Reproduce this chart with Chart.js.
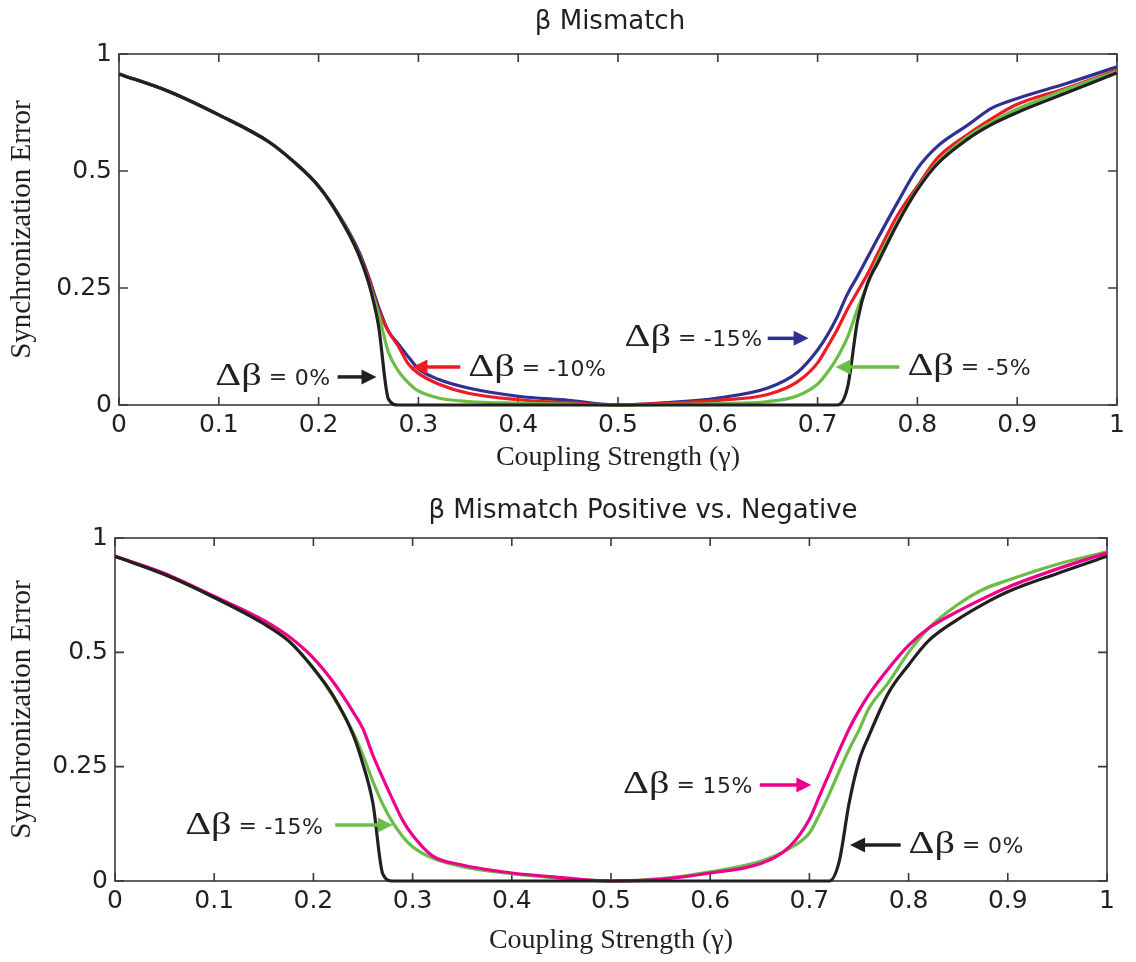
<!DOCTYPE html>
<html>
<head>
<meta charset="UTF-8">
<title>Beta mismatch</title>
<script src="https://cdn.jsdelivr.net/npm/chart.js@4.4.0/dist/chart.umd.min.js"></script>
<style>
    body { margin: 0; background: #fff; }
    .panel { position: absolute; left: 0; width: 1136px; height: 481px; }
</style>
</head>
<body>
<div class="panel" style="top:0"><canvas id="topChart" width="1136" height="481"></canvas></div>
<div class="panel" style="top:481px"><canvas id="bottomChart" width="1136" height="481"></canvas></div>

<script>
// coupling strength samples (x)
const gamma = [0, 0.05, 0.1, 0.15, 0.175, 0.2, 0.22, 0.24, 0.25, 0.26, 0.27, 0.28, 0.29, 0.3, 0.32, 0.35, 0.4, 0.45,
    0.5, 0.55, 0.6, 0.65, 0.68, 0.7, 0.71, 0.72, 0.73, 0.74, 0.75, 0.76, 0.78, 0.8, 0.82, 0.85, 0.875, 0.9, 0.95, 1.0];

// y is in axis units: the published axis puts 0, 0.25, 0.5, 1 at equal spacing
const yTickValues = [0, 1, 2, 3];
const yTickLabels = ['0', '0.25', '0.5', '1'];
const xTickValues = [0, 0.1, 0.2, 0.3, 0.4, 0.5, 0.6, 0.7, 0.8, 0.9, 1];

// top panel: beta mismatch
const topZero = [2.83, 2.68, 2.48, 2.25, 2.08, 1.87, 1.62, 1.29, 1.05, 0.68, 0.05, 0, 0, 0, 0, 0, 0, 0,
    0, 0, 0, 0, 0, 0, 0, 0, 0.15, 0.72, 1.04, 1.21, 1.55, 1.84, 2.06, 2.27, 2.40, 2.50, 2.67, 2.84];
const topMinus5 = [2.83, 2.68, 2.48, 2.25, 2.08, 1.87, 1.62, 1.29, 1.05, 0.78, 0.45, 0.29, 0.19, 0.12, 0.06, 0.03, 0.015, 0.007,
    0, 0.005, 0.012, 0.03, 0.08, 0.18, 0.28, 0.41, 0.58, 0.82, 1.03, 1.24, 1.56, 1.85, 2.07, 2.29, 2.42, 2.53, 2.70, 2.85];
const topMinus10 = [2.83, 2.68, 2.48, 2.25, 2.08, 1.87, 1.62, 1.30, 1.08, 0.81, 0.63, 0.50, 0.35, 0.27, 0.18, 0.10, 0.045, 0.02,
    0, 0.015, 0.04, 0.09, 0.20, 0.36, 0.50, 0.65, 0.82, 0.97, 1.12, 1.29, 1.62, 1.87, 2.11, 2.31, 2.45, 2.57, 2.71, 2.86];
const topMinus15 = [2.83, 2.68, 2.48, 2.25, 2.08, 1.87, 1.63, 1.32, 1.10, 0.84, 0.63, 0.52, 0.41, 0.31, 0.22, 0.145, 0.075, 0.04,
    0, 0.02, 0.06, 0.145, 0.28, 0.47, 0.60, 0.76, 0.95, 1.10, 1.26, 1.42, 1.73, 2.02, 2.21, 2.39, 2.54, 2.62, 2.75, 2.89];

// bottom panel: positive vs negative
const botZero = [2.84, 2.68, 2.48, 2.25, 2.10, 1.86, 1.62, 1.28, 1.02, 0.68, 0.06, 0, 0, 0, 0, 0, 0, 0,
    0, 0, 0, 0, 0, 0, 0, 0, 0.17, 0.68, 1.05, 1.27, 1.65, 1.89, 2.10, 2.29, 2.42, 2.53, 2.69, 2.84];
const botMinus15 = [2.84, 2.68, 2.48, 2.25, 2.10, 1.86, 1.61, 1.30, 1.10, 0.87, 0.67, 0.51, 0.39, 0.30, 0.20, 0.125, 0.065, 0.025,
    0, 0.02, 0.08, 0.17, 0.285, 0.42, 0.58, 0.76, 0.96, 1.15, 1.32, 1.51, 1.74, 2.00, 2.21, 2.42, 2.55, 2.63, 2.77, 2.88];
const botPlus15 = [2.84, 2.69, 2.49, 2.28, 2.14, 1.95, 1.74, 1.48, 1.33, 1.10, 0.90, 0.71, 0.53, 0.40, 0.22, 0.14, 0.07, 0.03,
    0, 0.015, 0.07, 0.15, 0.30, 0.54, 0.74, 0.94, 1.14, 1.33, 1.49, 1.63, 1.86, 2.06, 2.21, 2.36, 2.47, 2.57, 2.73, 2.87];

const INK = '#231f20';
const SANS = '"DejaVu Sans", sans-serif';
const SERIF = '"Liberation Serif", "Times New Roman", serif';

function series(values) {
    return gamma.map((g, i) => ({ x: g, y: values[i] }));
}

function line(label, values, color) {
    return {
        label: label,
        data: series(values),
        borderColor: color,
        borderWidth: 3.2,
        pointRadius: 0,
        cubicInterpolationMode: 'monotone',
        clip: false
    };
}

// box around the plot with inward ticks on all four sides
const framePlugin = {
    id: 'frame',
    beforeDatasetsDraw(chart) {
        const { ctx, chartArea: a, scales: { x, y } } = chart;
        ctx.save();
        ctx.strokeStyle = '#3a3a3a';
        ctx.lineWidth = 1.6;
        ctx.strokeRect(a.left, a.top, a.right - a.left, a.bottom - a.top);
        ctx.beginPath();
        xTickValues.forEach(v => {
            const px = x.getPixelForValue(v);
            ctx.moveTo(px, a.bottom); ctx.lineTo(px, a.bottom - 8);
            ctx.moveTo(px, a.top); ctx.lineTo(px, a.top + 8);
        });
        yTickValues.forEach(v => {
            const py = y.getPixelForValue(v);
            ctx.moveTo(a.left, py); ctx.lineTo(a.left + 9, py);
            ctx.moveTo(a.right, py); ctx.lineTo(a.right - 9, py);
        });
        ctx.stroke();
        ctx.restore();
    }
};

// title centred where the original sits
const panelTitle = {
    id: 'panelTitle',
    afterDraw(chart, args, opts) {
        const ctx = chart.ctx;
        ctx.save();
        ctx.fillStyle = INK;
        ctx.font = '26px ' + SANS;
        ctx.textAlign = 'center';
        ctx.textBaseline = 'middle';
        ctx.fillText(opts.text, opts.x, opts.y);
        ctx.restore();
    }
};

// "Δβ = n%" labels with arrows, placed in data units
const arrowNotes = {
    id: 'arrowNotes',
    afterDatasetsDraw(chart, args, opts) {
        const { ctx, scales: { x, y } } = chart;
        opts.items.forEach(n => {
            const ay = y.getPixelForValue(n.y);
            const x0 = x.getPixelForValue(n.from);
            const x1 = x.getPixelForValue(n.to);
            const dir = Math.sign(x1 - x0);
            ctx.save();
            ctx.strokeStyle = n.color;
            ctx.fillStyle = n.color;
            ctx.lineWidth = 3.5;
            ctx.beginPath();
            ctx.moveTo(x0, ay);
            ctx.lineTo(x1 - dir * 12, ay);
            ctx.stroke();
            ctx.beginPath();
            ctx.moveTo(x1, ay);
            ctx.lineTo(x1 - dir * 15, ay - 7.5);
            ctx.lineTo(x1 - dir * 15, ay + 7.5);
            ctx.closePath();
            ctx.fill();

            // label
            ctx.fillStyle = INK;
            ctx.textBaseline = 'alphabetic';
            ctx.textAlign = 'left';
            const stretch = 1.3;
            ctx.font = '31px ' + SERIF;
            const wDB = ctx.measureText('Δβ').width * stretch;
            ctx.font = '22px ' + SANS;
            ctx.letterSpacing = '0.5px';
            const wEq = ctx.measureText('=').width;
            const wVal = ctx.measureText(n.value).width;
            const gap = 7;
            const total = wDB + gap + wEq + gap + wVal;
            let lx = x.getPixelForValue(n.tx);
            if (n.align === 'right') lx -= total;
            const base = y.getPixelForValue(n.ty) + 8;

            ctx.save();
            ctx.letterSpacing = '0px';
            ctx.translate(lx, base);
            ctx.scale(stretch, 1);
            ctx.font = '31px ' + SERIF;
            ctx.fillText('Δβ', 0, 0);
            ctx.restore();
            ctx.font = '22px ' + SANS;
            ctx.fillText('=', lx + wDB + gap, base - 1);
            ctx.fillText(n.value, lx + wDB + gap + wEq + gap, base);
            ctx.restore();
        });
    }
};

function makeChart(id, datasets, opt) {
    return new Chart(document.getElementById(id), {
        type: 'line',
        data: { datasets: datasets },
        plugins: [framePlugin, panelTitle, arrowNotes],
        options: {
            responsive: false,
            animation: false,
            events: [],
            layout: { padding: { top: opt.padTop, right: opt.padRight, left: 0, bottom: 0 } },
            plugins: {
                legend: { display: false },
                tooltip: { enabled: false },
                panelTitle: { text: opt.title, x: opt.titleX, y: opt.titleY },
                arrowNotes: { items: opt.notes }
            },
            scales: {
                x: {
                    type: 'linear',
                    min: 0,
                    max: 1,
                    afterBuildTicks: s => { s.ticks = xTickValues.map(v => ({ value: v })); },
                    afterFit: s => { s.height = opt.xHeight; },
                    grid: { display: false, drawTicks: false },
                    border: { display: false },
                    ticks: {
                        padding: 5,
                        maxRotation: 0,
                        color: INK,
                        font: { family: SANS, size: 25 },
                        callback: v => (v === 0 || v === 1) ? String(v) : v.toFixed(1)
                    },
                    title: {
                        display: true,
                        text: 'Coupling Strength (γ)',
                        color: INK,
                        font: { family: SERIF, size: 28 },
                        padding: { top: 0, bottom: opt.xTitlePad }
                    }
                },
                y: {
                    type: 'linear',
                    min: 0,
                    max: 3,
                    afterBuildTicks: s => { s.ticks = yTickValues.map(v => ({ value: v })); },
                    afterFit: s => { s.width = opt.yWidth; },
                    grid: { display: false, drawTicks: false },
                    border: { display: false },
                    ticks: {
                        padding: 7,
                        color: INK,
                        font: { family: SANS, size: 25 },
                        callback: v => yTickLabels[yTickValues.indexOf(v)]
                    },
                    title: {
                        display: true,
                        text: 'Synchronization Error',
                        color: INK,
                        font: { family: SERIF, size: 29 },
                        padding: { top: 5, bottom: 0 }
                    }
                }
            }
        }
    });
}

makeChart('topChart', [
    line('Δβ = 0%', topZero, '#231f20'),
    line('Δβ = -5%', topMinus5, '#6abd45'),
    line('Δβ = -10%', topMinus10, '#ed1c24'),
    line('Δβ = -15%', topMinus15, '#2e3192')
], {
    title: 'β Mismatch', titleX: 610, titleY: 22,
    padTop: 54, padRight: 19, yWidth: 119, xHeight: 76, xTitlePad: 7,
    notes: [
        { value: '0%', tx: 0.212, ty: 0.24, align: 'right', from: 0.219, to: 0.258, y: 0.24, color: '#231f20' },
        { value: '-10%', tx: 0.35, ty: 0.32, align: 'left', from: 0.342, to: 0.294, y: 0.325, color: '#ed1c24' },
        { value: '-15%', tx: 0.645, ty: 0.57, align: 'right', from: 0.650, to: 0.691, y: 0.57, color: '#2e3192' },
        { value: '-5%', tx: 0.79, ty: 0.325, align: 'left', from: 0.782, to: 0.718, y: 0.325, color: '#6abd45' }
    ]
});

makeChart('bottomChart', [
    line('Δβ = 0%', botZero, '#231f20'),
    line('Δβ = 15%', botPlus15, '#ec008c'),
    line('Δβ = -15%', botMinus15, '#6abd45')
], {
    title: 'β Mismatch Positive vs. Negative', titleX: 643, titleY: 30,
    padTop: 57, padRight: 29, yWidth: 115, xHeight: 81, xTitlePad: 5,
    notes: [
        { value: '-15%', tx: 0.210, ty: 0.48, align: 'right', from: 0.222, to: 0.280, y: 0.49, color: '#6abd45' },
        { value: '15%', tx: 0.643, ty: 0.84, align: 'right', from: 0.650, to: 0.702, y: 0.84, color: '#ec008c' },
        { value: '0%', tx: 0.80, ty: 0.315, align: 'left', from: 0.792, to: 0.741, y: 0.315, color: '#231f20' }
    ]
});
</script>
</body>
</html>
